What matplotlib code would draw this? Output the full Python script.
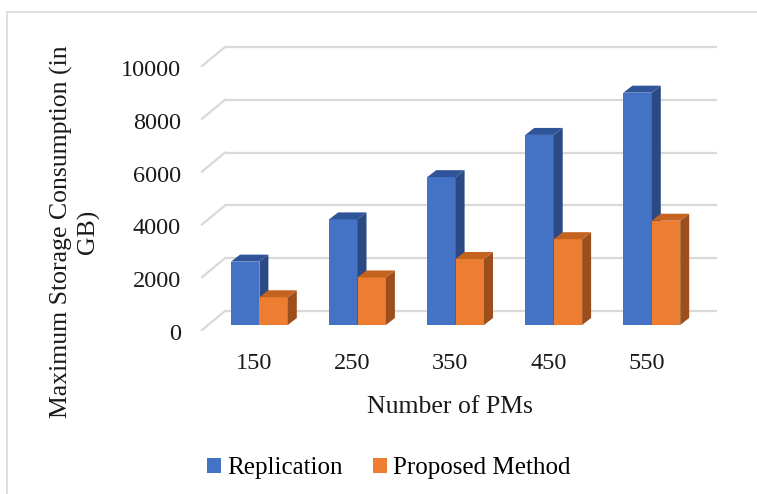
import numpy as np
import matplotlib
matplotlib.use("Agg")
import matplotlib.pyplot as plt
from matplotlib.patches import Polygon, Rectangle, Patch

plt.rcParams['font.family'] = ['Liberation Serif', 'DejaVu Serif']

# data
pms = ['150', '250', '350', '450', '550']
replication = [2400, 4000, 5600, 7200, 8800]
proposed = [1050, 1800, 2500, 3250, 3950]
yticks = [0, 2000, 4000, 6000, 8000, 10000]

W, H = 757, 494
fig = plt.figure(figsize=(W / 100, H / 100), dpi=100)
ax = fig.add_axes([0, 0, 1, 1])
ax.axis('off')

# pixel scale of the fake 3d chart
px_cat = 98.1            # px per category
px_val = 52.8 / 2000     # px per value unit
x0_px, y0_px = 259.4, 325  # category 0 / value 0 on the bar front plane (from top)
ax.set_xlim(-x0_px / px_cat, (W - x0_px) / px_cat)
ax.set_ylim(-(H - y0_px) / px_val, y0_px / px_val)


def dx(p):
    return p / px_cat


def dy(p):
    return p / px_val


bw = dx(28.4)
bar_dx, bar_dy = dx(9), dy(7)
back_dx, back_dy = dx(17.6), dy(14)
front_dx, front_dy = dx(-5.4), dy(-5)
wall_l, wall_r = -0.53, 4.49
grid_c = '#d9d9d9'

# back wall gridlines + side diagonals
for v in yticks:
    ax.plot([wall_l + back_dx, wall_r + back_dx], [v + back_dy, v + back_dy],
            color=grid_c, lw=1.6, solid_capstyle='butt', zorder=1)
    ax.plot([wall_l + front_dx, wall_l + back_dx], [v + front_dy, v + back_dy],
            color=grid_c, lw=1.6, zorder=1)
    ax.text(wall_l + front_dx - dx(21), v + front_dy - dy(10), str(v),
            ha='right', va='baseline', fontsize=17.5, color='#1a1a1a')


def bar3d(x, v, front, side, top):
    ax.add_patch(Rectangle((x, 0), bw, v, facecolor=front, edgecolor='none', zorder=2))
    ax.add_patch(Polygon([(x + bw, 0), (x + bw + bar_dx, bar_dy),
                          (x + bw + bar_dx, v + bar_dy), (x + bw, v)],
                         closed=True, facecolor=side, edgecolor='none', zorder=2))
    ax.add_patch(Polygon([(x, v), (x + bw, v), (x + bw + bar_dx, v + bar_dy),
                          (x + bar_dx, v + bar_dy)],
                         closed=True, facecolor=top, edgecolor='none', zorder=2))


for i in range(len(pms)):
    bar3d(i - bw, replication[i], '#4472c4', '#2b4a83', '#30549a')
    bar3d(i, proposed[i], '#ed7d31', '#9c4f1c', '#c4621f')
    ax.text(i + front_dx, dy(-(369 - y0_px)), pms[i], ha='center', va='baseline',
            fontsize=17.5, color='#1a1a1a')

ax.text(dx(449.5 - x0_px), dy(-(412.7 - y0_px)), 'Number of PMs', ha='center',
        va='baseline', fontsize=18.5, color='#1a1a1a')
ax.text(dx(75 - x0_px), dy(-(232 - y0_px)), 'Maximum Storage Consumption (in\nGB)',
        rotation=90, ha='center', va='center', multialignment='center',
        fontsize=18.5, color='#1a1a1a', linespacing=1.2)

handles = [Patch(facecolor='#4472c4', label='Replication'),
           Patch(facecolor='#ed7d31', label='Proposed Method')]
fig.legend(handles=handles, loc='center', bbox_to_anchor=(388.5 / W, 1 - 468 / H),
           ncol=2, frameon=False, fontsize=18, handlelength=0.56, handleheight=0.56,
           handletextpad=0.25, columnspacing=1.2, borderpad=0)

# outer chart border
fig.patches.append(Rectangle((6.7 / W, -0.05), 1.1, 1 - 12.3 / H + 0.05,
                             transform=fig.transFigure, fill=False,
                             edgecolor='#d9d9d9', lw=1.2))

fig.savefig('out.png', dpi=100, facecolor='white')
